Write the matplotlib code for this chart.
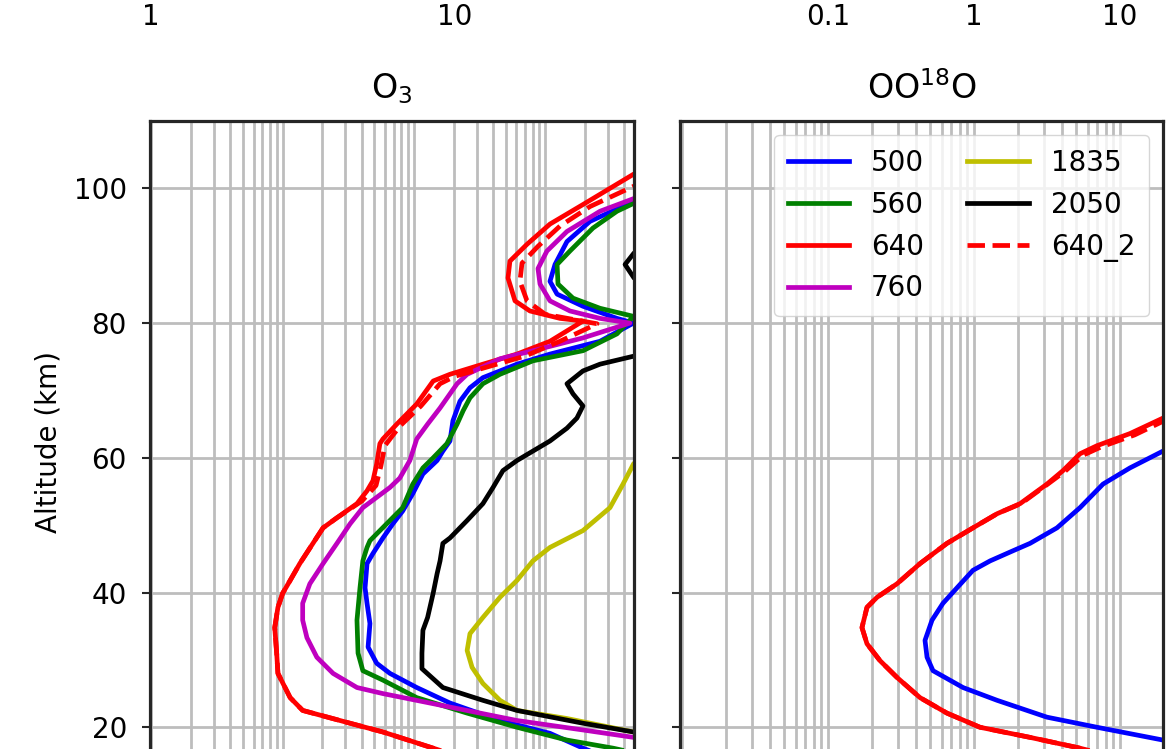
import matplotlib
matplotlib.use("Agg")
import matplotlib.pyplot as plt
from matplotlib.ticker import FixedLocator, FixedFormatter, NullFormatter, LogLocator

# ---------------- data (altitude km, value) ----------------
labels = ["500", "560", "640", "760", "1835", "2050", "640_2"]

o3_alt_500 = [101, 98.1, 95.1, 92.1, 88.7, 86.2, 84.3, 82.5, 80.7, 80.0, 77.3, 75.4, 73.9, 71.9, 70.4, 68.4,
              65.5, 62.5, 61.0, 59.6, 57.6, 54.7, 52.1, 50.2, 48.1, 45.8, 44.3, 40.7, 38.4, 35.4, 31.9, 29.5,
              28.0, 25.9, 23.6, 21.0, 19.1, 16.9, 14.5]
o3_val_500 = [8000, 4740, 2190, 1463, 1186, 1086, 1230, 1937, 3515, 4700, 2610, 1086, 609, 335, 267, 224,
              198, 188, 166, 150, 117, 98, 82, 69, 58, 48.7, 43.9, 42.4, 43.9, 46.2, 44.7, 52,
              65.6, 105, 188, 452, 1086, 1937, 4000]

o3_alt_560 = [101, 97.8, 96.6, 94.1, 90.7, 88.7, 85.8, 83.7, 82.2, 81.0, 78.4, 75.9, 74.4, 72.4, 71.0, 68.9,
              67.0, 65.0, 62.1, 60.0, 58.5, 56.1, 52.6, 50.7, 47.7, 46.7, 44.7, 40.7, 35.9, 31.0, 28.4, 27.0,
              24.4, 22.1, 20.0, 18.1, 16.9, 15.5]
o3_val_560 = [9000, 4740, 3515, 2306, 1542, 1230, 1250, 1626, 2610, 4700, 3515, 1937, 805, 452, 335, 267,
              237, 213, 178, 140, 117, 98, 82, 65.6, 46.2, 43.9, 40.8, 38.8, 36.8, 37.5, 40.8, 58,
              105, 254, 609, 1463, 3280, 7000]

o3_alt_640 = [104, 102.1, 97.6, 94.7, 91.7, 89.2, 86.7, 83.3, 81.8, 80.7, 80.3, 77.3, 75.4, 73.9, 72.4, 71.4,
              68.0, 65.0, 62.8, 62.1, 59.1, 56.6, 55.1, 53.2, 51.1, 49.6, 47.3, 44.3, 41.8, 39.9, 37.8, 34.8,
              31.0, 28.0, 24.4, 22.5, 20.6, 19.3, 16.9, 14.0]
o3_val_640 = [9000, 4700, 1937, 1086, 726, 538, 520, 588, 764, 1294, 1937, 1086, 609, 335, 188, 140,
              105, 74, 58, 55, 52, 48.7, 43.9, 36.8, 25.9, 20.3, 17.0, 13.5, 11.4, 10, 9.2, 8.7,
              9.0, 9.2, 11.4, 14.2, 32.6, 58, 140, 400]

o3_alt_760 = [101, 98.5, 96.6, 93.6, 90.7, 88.1, 85.8, 83.3, 81.8, 80.7, 80.0, 77.8, 75.9, 74.7, 72.4, 71.0,
              67.4, 65.0, 62.8, 59.6, 57.0, 55.6, 52.6, 50.2, 47.3, 44.3, 41.3, 38.4, 35.9, 33.3, 30.4, 28.0,
              25.9, 25.0, 23.0, 21.0, 19.6, 18.5, 17.0]
o3_val_760 = [8000, 4740, 2610, 1463, 1030, 880, 912, 1086, 1542, 2610, 4410, 1937, 805, 452, 254, 213,
              158, 127, 105, 93, 78, 65.6, 40.8, 32.6, 25.9, 20.3, 16.1, 14.2, 14.2, 15.3, 18.2, 24.2,
              36.8, 58, 188, 609, 1937, 4700, 9000]

o3_alt_1835 = [61, 59.1, 56.1, 52.6, 49.2, 46.7, 44.7, 41.8, 39.3, 36.3, 33.9, 31.4, 28.9, 26.5, 24.0, 22.5,
               21.3, 19.3, 18.0]
o3_val_1835 = [6000, 4700, 3910, 3110, 1937, 1086, 805, 609, 452, 335, 267, 254, 277, 335, 452, 609,
               1463, 4700, 9000]

o3_alt_2050 = [92, 90.4, 88.7, 86.7, 84, 78, 75.1, 73.9, 72.9, 71.0, 69.5, 67.7, 65.9, 64.4, 62.5, 61.0,
               59.6, 58.1, 55.6, 53.2, 50.7, 48.1, 47.3, 44.7, 42.8, 39.9, 36.3, 34.4, 31.0, 28.7, 25.9, 24.0,
               22.5, 20.6, 19.3, 18.0]
o3_val_2050 = [7000, 4740, 4050, 4740, 7000, 7000, 4740, 2610, 1937, 1463, 1626, 1937, 1742, 1463, 1086, 805,
               609, 476, 400, 335, 254, 188, 166, 158, 150, 140, 127, 117, 115, 115, 166, 335,
               609, 1937, 4700, 9000]

o3_alt_640_2 = [103, 100.3, 97.3, 94.4, 91.4, 88.9, 86.2, 83.3, 81.3, 79.9, 77.3, 75.1, 73.6, 72.1, 71.0, 67.7,
                64.7, 61.8, 58.8, 55.9, 53.6, 51.1, 49.6, 47.3, 44.3, 41.8, 39.9, 37.8, 34.8, 31.0, 28.0, 24.4,
                22.5, 20.6, 19.3, 16.9, 14.0]
o3_val_640_2 = [9000, 4700, 2190, 1294, 880, 665, 641, 726, 1000, 2480, 1294, 700, 379, 205, 158, 113,
                78, 60, 56, 51.4, 40.2, 25.9, 20.3, 17.0, 13.5, 11.4, 10, 9.2, 8.7, 9.0, 9.2, 11.4,
                14.2, 32.6, 58, 140, 400]

oo18o_alt_500 = [63, 61.0, 58.5, 56.1, 52.6, 49.6, 47.3, 46.2, 44.7, 43.3, 40.7, 38.4, 35.9, 32.9, 30.4, 28.4,
                 25.9, 24.0, 21.5, 20.0, 18.1, 16.5]
oo18o_val_500 = [30, 19.7, 11.7, 7.65, 5.32, 3.70, 2.42, 1.85, 1.29, 0.984, 0.765, 0.613, 0.516, 0.462, 0.477, 0.524,
                 0.841, 1.44, 3.16, 6.96, 19.7, 40]

oo18o_alt_640 = [68, 65.9, 63.6, 61.8, 60.6, 58.1, 56.1, 53.2, 51.7, 49.6, 47.3, 44.3, 41.3, 39.3, 37.8, 34.8,
                 32.4, 29.9, 27.4, 24.4, 22.1, 20.0, 18.5, 17.0, 15.0]
oo18o_val_640 = [30, 19.7, 11.7, 6.96, 5.32, 4.07, 3.16, 2.07, 1.44, 0.984, 0.653, 0.427, 0.297, 0.217, 0.185, 0.171,
                 0.185, 0.227, 0.297, 0.427, 0.653, 1.10, 2.42, 5.08, 12]

oo18o_alt_640_2 = [68, 65.6, 63.4, 61.6, 60.4, 58.0, 56.1, 53.2, 51.7, 49.6, 47.3, 44.3, 41.3, 39.3, 37.8, 34.8,
                   32.4, 29.9, 27.4, 24.4, 22.1, 20.0, 18.5, 17.0, 15.0]
oo18o_val_640_2 = [30, 20.5, 12.6, 7.4, 5.6, 4.2, 3.2, 2.1, 1.44, 0.984, 0.653, 0.427, 0.297, 0.217, 0.185, 0.171,
                   0.185, 0.227, 0.297, 0.427, 0.653, 1.10, 2.42, 5.08, 12]

upper_left_ticks = [1, 10]
upper_right_ticks = [0.1, 1, 10]
alt_ticks = [20, 40, 60, 80, 100]

# ---------------- style ----------------
W, H, DPI = 1168, 749, 100
FS = 20
TFS = 24
plt.rcParams["font.family"] = ["DejaVu Sans"]
plt.rcParams["font.size"] = FS
plt.rcParams["mathtext.fontset"] = "dejavusans"

fig = plt.figure(figsize=(W / DPI, H / DPI), dpi=DPI)

def px_axes(x0, x1, ytop, ybot):
    return [x0 / W, 1 - ybot / H, (x1 - x0) / W, (ybot - ytop) / H]

GRID_C = "#bdbdbd"
SPINE_C = "#262626"
LW = 3.4

def style(ax, xlim):
    ax.set_xscale("log")
    ax.set_xlim(*xlim)
    ax.set_ylim(0, 110)
    ax.set_yticks(alt_ticks)
    ax.xaxis.set_major_locator(LogLocator(base=10, numticks=30))
    ax.xaxis.set_minor_locator(LogLocator(base=10, subs=range(2, 10), numticks=30))
    ax.grid(True, which="both", axis="x", color=GRID_C, lw=2.0)
    ax.grid(True, which="major", axis="y", color=GRID_C, lw=2.0)
    ax.set_axisbelow(True)
    for s in ax.spines.values():
        s.set_linewidth(2.3)
        s.set_color(SPINE_C)
    ax.tick_params(axis="y", length=5.8, width=1.5, pad=10.8, labelsize=FS, color=SPINE_C)
    ax.tick_params(axis="x", which="both", length=5.8, width=1.5, labelbottom=False, color=SPINE_C)

# lower-left: O3
ax1 = fig.add_axes(px_axes(150, 634, 121, 862))
style(ax1, (0.976, 4740))
colors = {"500": "b", "560": "g", "640": "r", "760": "m", "1835": "y", "2050": "k"}
series_o3 = {
    "500": (o3_alt_500, o3_val_500),
    "560": (o3_alt_560, o3_val_560),
    "640": (o3_alt_640, o3_val_640),
    "760": (o3_alt_760, o3_val_760),
    "1835": (o3_alt_1835, o3_val_1835),
    "2050": (o3_alt_2050, o3_val_2050),
}
handles = []
for lab in ["500", "560", "640", "760", "1835", "2050"]:
    a, v = series_o3[lab]
    h, = ax1.plot(v, a, color=colors[lab], lw=LW, label=lab)
    handles.append(h)
h, = ax1.plot(o3_val_640_2, o3_alt_640_2, color="r", ls="--", lw=LW, label="640_2")
handles.append(h)
ax1.set_title("O$_3$", fontsize=TFS, pad=16)
ax1.set_ylabel("Altitude (km)", fontsize=FS)
ax1.yaxis.set_label_coords(-0.18, 0.567)

# lower-right: OO18O
ax2 = fig.add_axes(px_axes(680, 1163, 121, 862))
style(ax2, (0.0097, 19.7))
ax2.plot(oo18o_val_500, oo18o_alt_500, color="b", lw=LW)
ax2.plot(oo18o_val_640, oo18o_alt_640, color="r", lw=LW)
ax2.plot(oo18o_val_640_2, oo18o_alt_640_2, color="r", ls="--", lw=LW)
ax2.tick_params(axis="y", labelleft=False)
ax2.set_title("OO$^{18}$O", fontsize=TFS, pad=16)
ax2.legend(handles, labels, loc="upper right", ncol=2, fontsize=FS,
           handlelength=2.2, borderaxespad=0.5, borderpad=0.5, columnspacing=1.55)

# upper row panels (only their x tick labels fall inside the figure)
axu1 = fig.add_axes(px_axes(150, 634, -300, -20))
axu1.set_xscale("log")
axu1.set_xlim(0.992, 38.8)
axu2 = fig.add_axes(px_axes(680, 1163, -300, -20))
axu2.set_xscale("log")
axu2.set_xlim(0.0097, 19.7)
for ax, ticks in ((axu1, upper_left_ticks), (axu2, upper_right_ticks)):
    ax.xaxis.set_major_locator(FixedLocator(ticks))
    ax.xaxis.set_major_formatter(FixedFormatter([f"{t:g}" for t in ticks]))
    ax.xaxis.set_minor_locator(FixedLocator([]))
    ax.xaxis.set_minor_formatter(NullFormatter())
    ax.set_yticks([])
    ax.tick_params(axis="x", length=5.8, width=1.5, pad=10.8, labelsize=FS)

fig.savefig("out.png", dpi=DPI)
